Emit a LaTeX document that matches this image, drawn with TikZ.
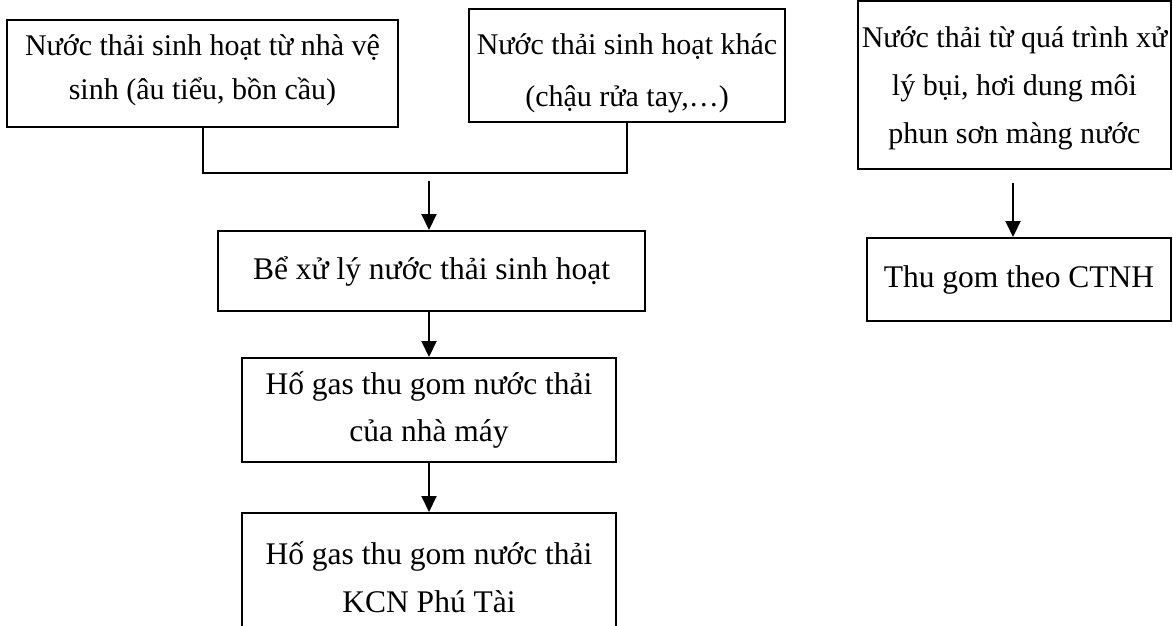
\documentclass[tikz,border=0pt]{standalone}
\usepackage{fontspec}
\setmainfont{Liberation Serif}
\usetikzlibrary{arrows.meta}
\newcommand{\topstrut}[1]{\rule{0pt}{#1}}
\newcommand{\botstrut}[1]{\rule[-#1]{0pt}{#1}}
\begin{document}
\begin{tikzpicture}[x=0.5pt,y=-0.5pt,
  box/.style={draw, line width=1pt, align=center, inner sep=0pt,
    font=\fontsize{15.75pt}{23.75pt}\selectfont},
  link/.style={line width=1pt},
  arr/.style={line width=1pt, -{Triangle[width=7.5pt,length=8pt]}}]
\clip (0,0) rectangle (1173,626);
\node[box, minimum width=195.5pt, minimum height=53.5pt, font=\fontsize{15pt}{22pt}\selectfont] (A) at (202.5,73.5)
  {\topstrut{16pt}Nước thải sinh hoạt từ nhà vệ\\sinh (âu tiểu, bồn cầu)\botstrut{11.5pt}};
\node[box, minimum width=158pt, minimum height=56.5pt, font=\fontsize{15pt}{26pt}\selectfont] (B) at (627,65.5)
  {\topstrut{20pt}Nước thải sinh hoạt khác\\(chậu rửa tay,…)\botstrut{4.5pt}};
\node[box, minimum width=156.5pt, minimum height=84pt, font=\fontsize{15pt}{24pt}\selectfont] (C) at (1014.5,85)
  {\topstrut{18pt}Nước thải từ quá trình xử\\lý bụi, hơi dung môi\\phun sơn màng nước\botstrut{7.5pt}};
\node[box, minimum width=152pt, minimum height=41.5pt] (D) at (1019,279.5)
  {Thu gom theo CTNH};
\node[box, minimum width=213.5pt, minimum height=40pt] (Be) at (431.5,271)
  {Bể xử lý nước thải sinh hoạt};
\node[box, minimum width=187pt, minimum height=52pt] (Ho1) at (429,410)
  {Hố gas thu gom nước thải\\của nhà máy};
\node[box, minimum width=187pt, minimum height=64pt] (Ho2) at (429,577)
  {Hố gas thu gom nước thải\\KCN Phú Tài};
\coordinate (j) at (429,173);
\coordinate (s) at (429,181);
\coordinate (c) at (1013,183);
\draw[link] (A.south) |- (j) -| (B.south);
\draw[arr] (s) -- (s |- Be.north);
\draw[arr] (Ho1.north |- Be.south) -- (Ho1.north);
\draw[arr] (Ho1.south) -- (Ho2.north);
\draw[arr] (c) -- (c |- D.north);
\end{tikzpicture}
\end{document}
